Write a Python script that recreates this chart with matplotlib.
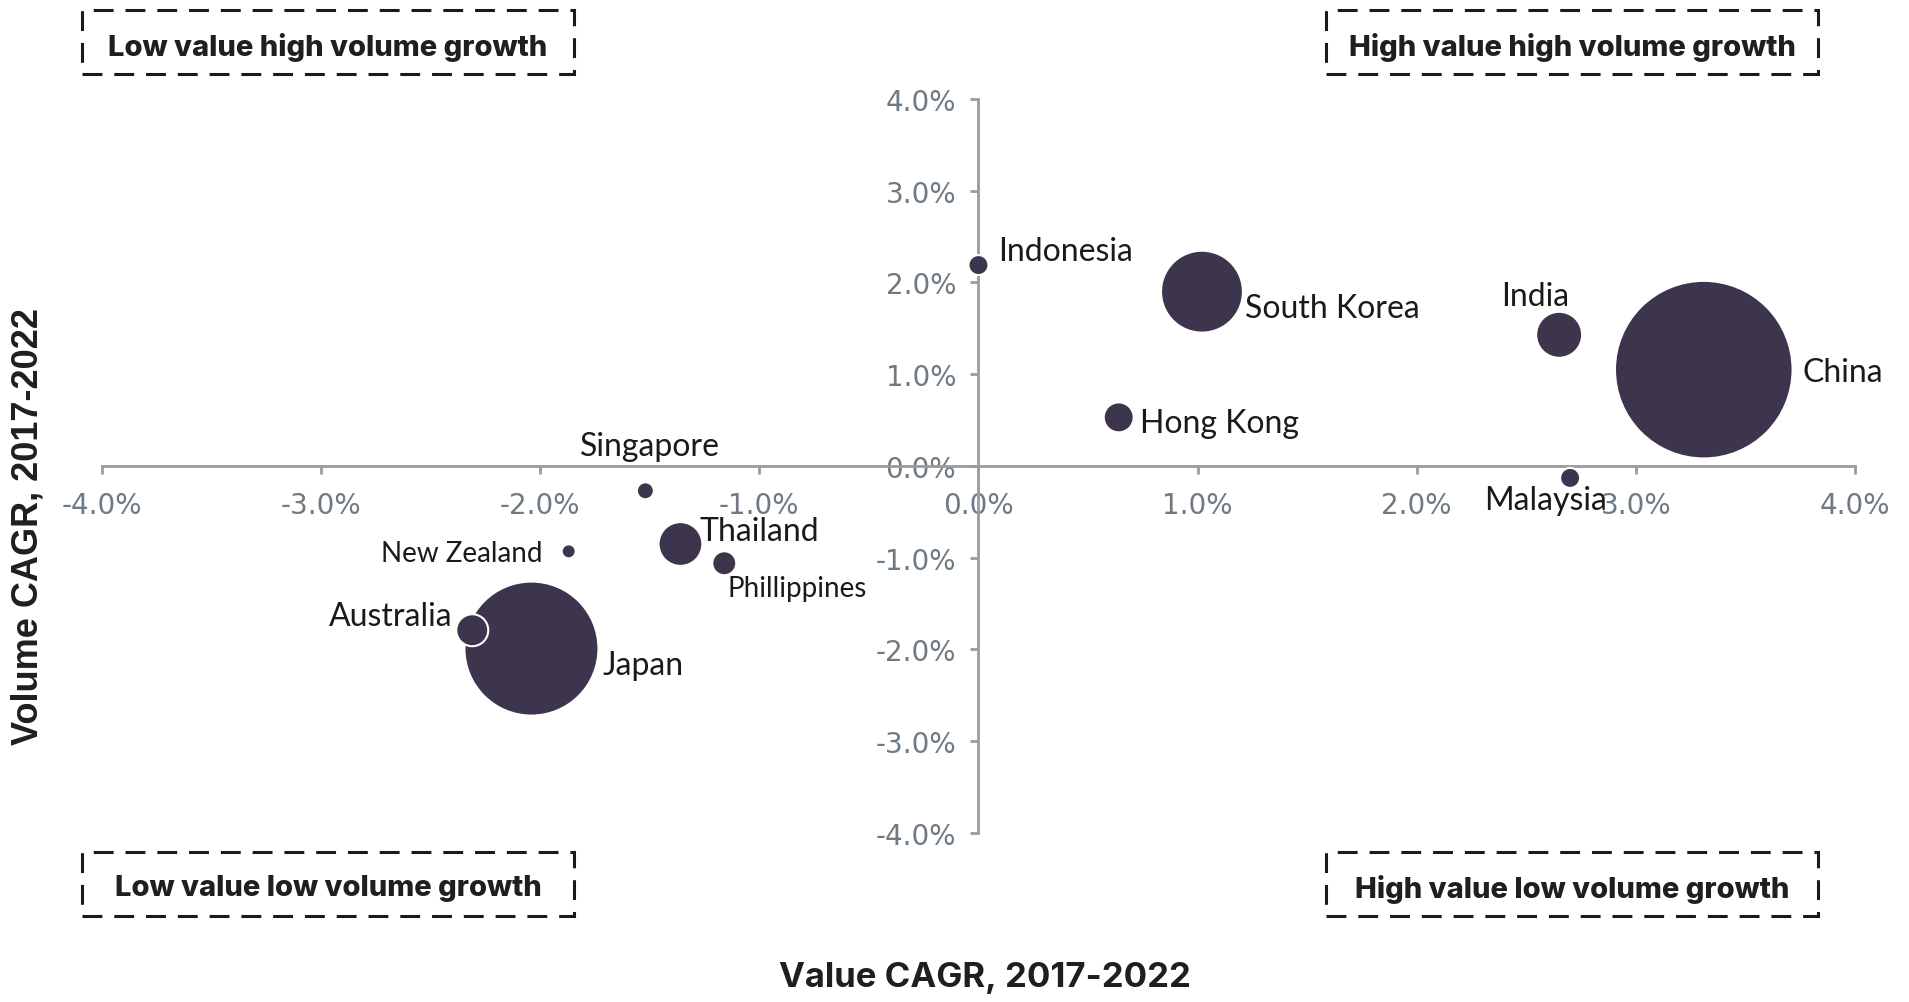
import matplotlib.pyplot as plt
from matplotlib.patches import Rectangle
from matplotlib.ticker import FuncFormatter, MultipleLocator

# value CAGR (%), volume CAGR (%), relative bubble size
countries = ['China', 'Japan', 'South Korea', 'India', 'Thailand', 'Australia',
             'Hong Kong', 'Phillippines', 'Malaysia', 'Indonesia', 'Singapore',
             'New Zealand']
value_cagr = [3.31, -2.04, 1.02, 2.65, -1.36, -2.31, 0.64, -1.16, 2.70, 0.0, -1.52, -1.87]
volume_cagr = [1.05, -1.99, 1.90, 1.43, -0.85, -1.79, 0.53, -1.06, -0.13, 2.19, -0.27, -0.93]
bubble_size = [7900, 4500, 1680, 530, 480, 256, 225, 144, 100, 100, 72, 49]

quadrants = ['Low value high volume growth', 'High value high volume growth',
             'Low value low volume growth', 'High value low volume growth']

# label offsets in points (dx, dy, ha, fontsize)
label_style = {
    'China': (71, -2, 'left', 23),
    'Japan': (51, -12, 'left', 23),
    'South Korea': (31, -12, 'left', 23),
    'India': (-17, 28, 'center', 23),
    'Thailand': (14, 9, 'left', 23),
    'Australia': (-14, 10, 'right', 23),
    'Hong Kong': (15, -4, 'left', 23),
    'Phillippines': (2, -18, 'left', 20),
    'Malaysia': (-18, -16, 'center', 23),
    'Indonesia': (14, 10, 'left', 23),
    'Singapore': (3, 32, 'center', 23),
    'New Zealand': (-19, -1, 'right', 20),
}

bubble_color = '#3c354d'
axis_color = '#9b9b9b'
tick_color = '#6e7a84'

fig = plt.figure(figsize=(19.09, 10.03), dpi=100)
ax = fig.add_axes([0.0534, 0.1685, 0.9183, 0.7318])

ax.scatter(value_cagr, volume_cagr, s=[b * 2.07 for b in bubble_size],
           color=bubble_color, edgecolors='white', linewidths=1.5, zorder=3)

for name, x, y in zip(countries, value_cagr, volume_cagr):
    dx, dy, ha, fs = label_style[name]
    ax.annotate(name, (x, y), xytext=(dx, dy), textcoords='offset points',
                ha=ha, va='center', fontsize=fs, color='#1a1a1a',
                family='Lato', zorder=4)

ax.set_xlim(-4, 4)
ax.set_ylim(-4, 4)
ax.spines['left'].set_position(('data', 0))
ax.spines['bottom'].set_position(('data', 0))
ax.spines['right'].set_visible(False)
ax.spines['top'].set_visible(False)
for s in ['left', 'bottom']:
    ax.spines[s].set_color(axis_color)
    ax.spines[s].set_linewidth(2)

pct = FuncFormatter(lambda v, p: f'{v:.1f}%')
ax.xaxis.set_major_locator(MultipleLocator(1))
ax.yaxis.set_major_locator(MultipleLocator(1))
ax.xaxis.set_major_formatter(pct)
ax.yaxis.set_major_formatter(pct)
ax.tick_params(axis='both', colors=axis_color, labelcolor=tick_color,
               labelsize=20, width=2, length=6)
ax.tick_params(axis='x', pad=12)
ax.tick_params(axis='y', pad=10)
for lab in ax.get_xticklabels() + ax.get_yticklabels():
    lab.set_family('DejaVu Sans')

fig.text(0.516, 0.025, 'Value CAGR, 2017-2022', ha='center', va='center',
         fontsize=25, fontweight='bold', family='Inter', color='#1f1f1f')
fig.text(0.0145, 0.4746, 'Volume CAGR, 2017-2022', ha='center', va='center',
         rotation=90, fontsize=26, fontweight='bold', family='Liberation Sans',
         color='#1f1f1f')

# dashed quadrant boxes (figure pixel positions)
W, H = 1909, 1003
boxes = [(82, 11), (1326, 11), (82, 853), (1326, 853)]
for (bx, by), txt in zip(boxes, quadrants):
    bw, bh = 492, 64
    rect = Rectangle((bx / W, 1 - (by + bh) / H), bw / W, bh / H,
                     transform=fig.transFigure, fill=False, ec='#1a1a1a',
                     lw=2.2, linestyle=(0, (6.5, 3.9)))
    fig.patches.append(rect)
    fig.text((bx + bw / 2) / W, 1 - (by + bh / 2 + 4) / H, txt, ha='center',
             va='center', fontsize=21, fontweight='heavy', family='Inter',
             color='#1f1f1f')

fig.savefig('out.png', dpi=100)
